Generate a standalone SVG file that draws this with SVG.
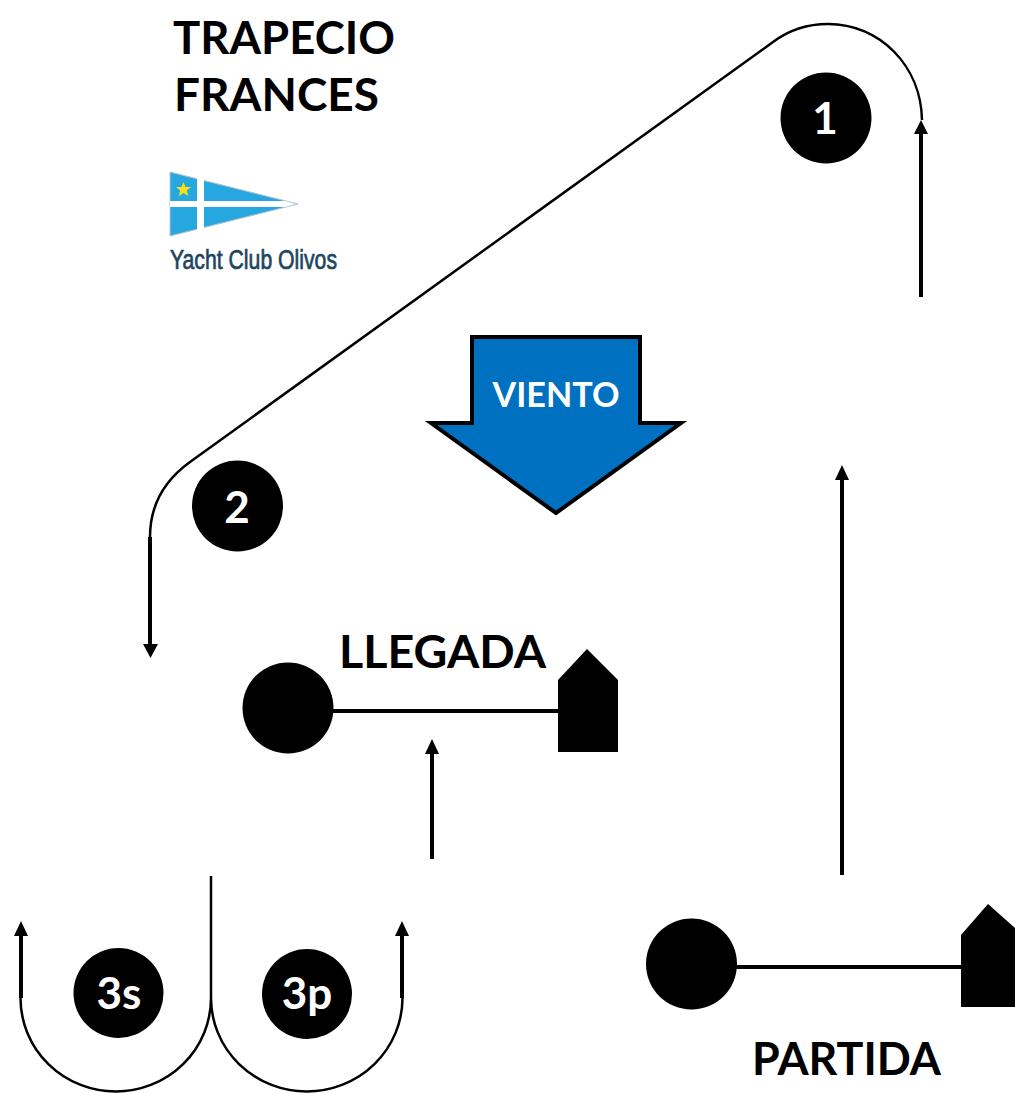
<svg xmlns="http://www.w3.org/2000/svg" width="1015" height="1093" viewBox="0 0 1015 1093">
<style>
.t{font-family:"Lato","Liberation Sans",sans-serif;font-weight:700;fill:#000}
.w{font-family:"Lato","Liberation Sans",sans-serif;font-weight:700;fill:#fff;text-anchor:middle}
.thin{fill:none;stroke:#000;stroke-width:2.5}
.thick{fill:none;stroke:#000;stroke-width:4}
</style>
<rect width="1015" height="1093" fill="#fff"/>
<g id="title">
<text class="t" x="173" y="54" font-size="46" textLength="222" lengthAdjust="spacingAndGlyphs">TRAPECIO</text>
<text class="t" x="174" y="111" font-size="46" textLength="205" lengthAdjust="spacingAndGlyphs">FRANCES</text>
</g>
<g id="logo">
<path d="M170,172 L298,204 L170,236 Z" fill="#27a7df" stroke="#b9c4c9" stroke-width="1"/>
<path d="M197,178 H204 V230 H197 Z" fill="#fff"/>
<path d="M170,201 H285 L296,204 L285,207 H170 Z" fill="#fff"/>
<path d="M183.500,182 L185.500,187 L191,187 L186.800,190.500 L188.300,196 L183.500,193 L178.700,196 L180.200,190.500 L176,187 L181.500,187 Z" fill="#f7e017"/>
<text x="170" y="269" font-family="Liberation Sans,sans-serif" font-size="27" font-weight="400" fill="#1d4560" stroke="#1d4560" stroke-width="0.7" textLength="167" lengthAdjust="spacingAndGlyphs">Yacht Club Olivos</text>
</g>
<g id="connectors">
<path class="thin" d="M922,120 C921,66 880,24 828,24 C807,24 789,30 773,42 L190,462 C165,480 150,505 150,537"/>
<path class="thick" d="M150,537 V646"/>
<path d="M143,644 H158 L150.500,658 Z" fill="#000"/>
<path class="thick" d="M921,297 V132"/>
<path d="M914,134 L921,120 L928,134 Z" fill="#000"/>
<path class="thick" d="M842,875 V478"/>
<path d="M835,480 L842,465 L849,480 Z" fill="#000"/>
<path class="thick" d="M432,859 V752"/>
<path d="M425,754 L432,739 L439,754 Z" fill="#000"/>
<path class="thin" d="M211,876 V998"/>
<path class="thin" d="M20.500,998 A95.250,93.500 0 0 0 211,998 A95.750,93.500 0 0 0 402.500,998"/>
<path class="thick" d="M21,998 V934"/>
<path d="M14,936 L21,921 L28,936 Z" fill="#000"/>
<path class="thick" d="M402,998 V934"/>
<path d="M395,936 L402,921 L409,936 Z" fill="#000"/>
<path class="thick" d="M288,711 H560"/>
<path class="thick" d="M691,967 H962"/>
</g>
<g id="wind">
<path d="M472,337 H640 V423 H681 L556,513 L431,423 H472 Z" fill="#0070c0" stroke="#000" stroke-width="4"/>
<text class="w" x="556" y="407" font-size="35" textLength="127" lengthAdjust="spacingAndGlyphs">VIENTO</text>
</g>
<g id="mark1"><circle cx="826" cy="118" r="45.500"/><text class="w" x="825" y="134" font-size="44">1</text></g>
<g id="mark2"><circle cx="237.500" cy="506" r="45.500"/><text class="w" x="237" y="523" font-size="44">2</text></g>
<g id="mark3s"><circle cx="118.500" cy="993" r="45"/><text class="w" x="119" y="1009" font-size="44">3s</text></g>
<g id="mark3p"><circle cx="307" cy="994" r="45"/><text class="w" x="307" y="1009" font-size="44">3p</text></g>
<g id="llegada">
<text class="t" x="339" y="668" font-size="46" textLength="207" lengthAdjust="spacingAndGlyphs">LLEGADA</text>
<circle cx="288" cy="708" r="45.500"/>
<path d="M558,752 V680 L587,649 L618,680 V752 Z"/>
</g>
<g id="partida">
<text class="t" x="752" y="1075" font-size="46" textLength="189" lengthAdjust="spacingAndGlyphs">PARTIDA</text>
<circle cx="691.500" cy="964" r="45.500"/>
<path d="M961,1007 V935 L988,904 L1015,928 V1007 Z"/>
</g>
</svg>
